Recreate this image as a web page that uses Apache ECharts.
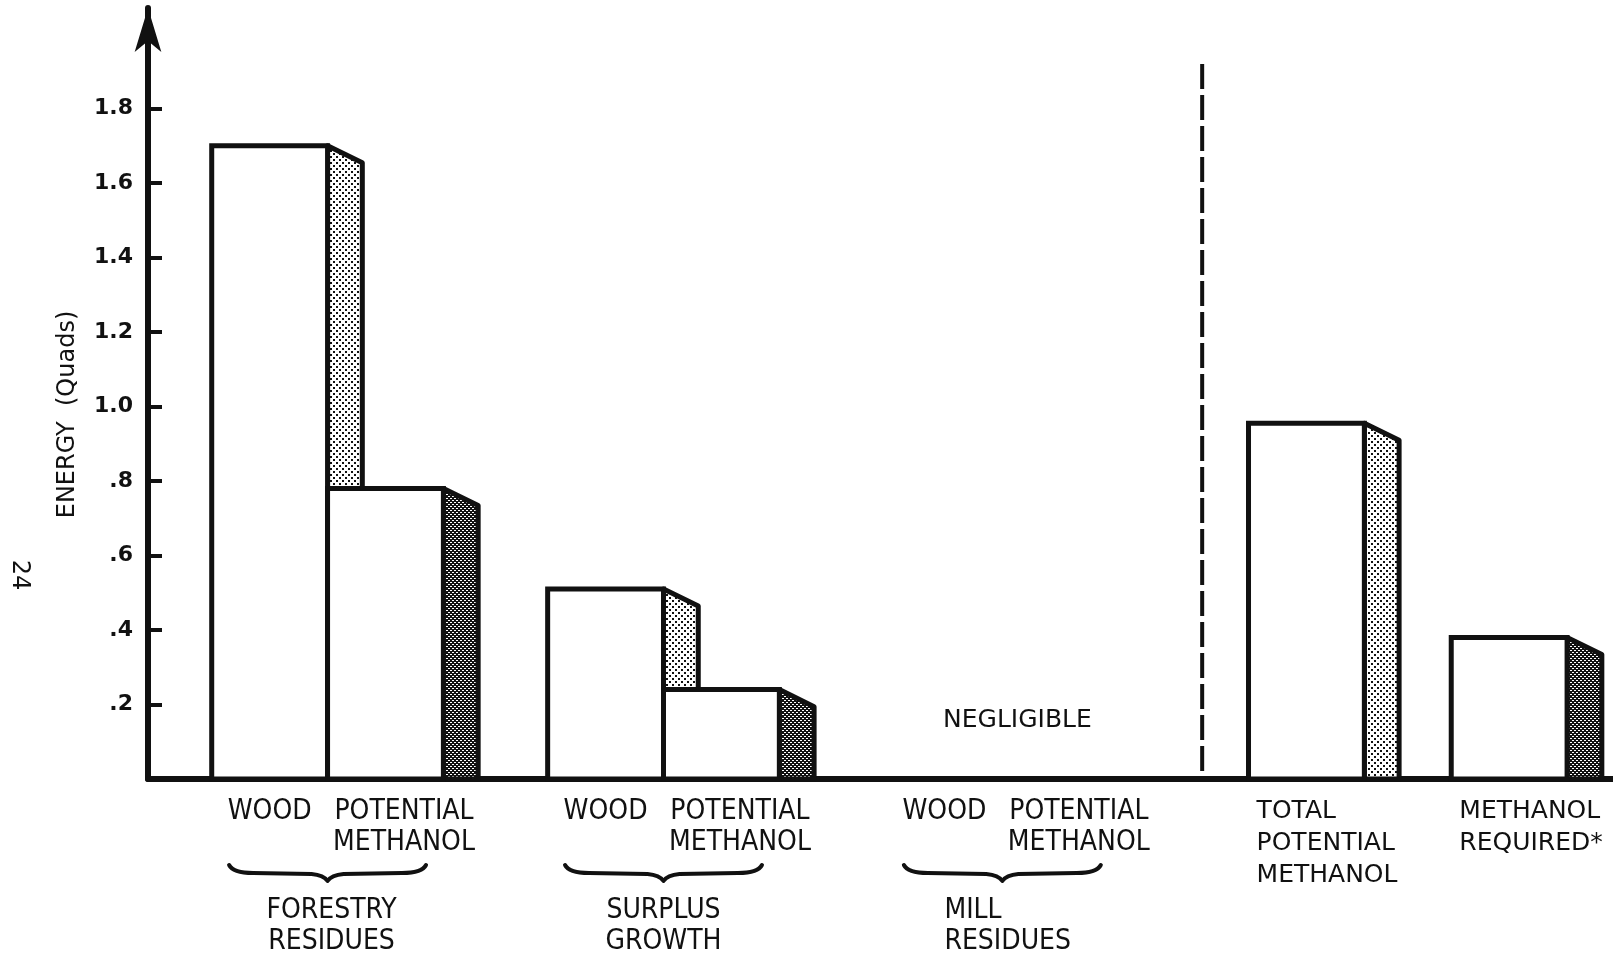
<!DOCTYPE html>
<html>
<head>
<meta charset="utf-8">
<title>Wood residues - energy</title>
<script src="https://cdn.jsdelivr.net/npm/echarts@6/dist/echarts.min.js"></script>
<style>
  html, body { margin: 0; padding: 0; background: #fff; }
  #main { width: 1613px; height: 959px; }
</style>
</head>
<body>
<div id="main"></div>
<script>
// bars, left to right
var barNames = ['WOOD', 'POTENTIAL\nMETHANOL', 'WOOD', 'POTENTIAL\nMETHANOL', 'WOOD', 'POTENTIAL\nMETHANOL',
                'TOTAL\nPOTENTIAL\nMETHANOL', 'METHANOL\nREQUIRED*'];
var energyQuads = [1.70, 0.78, 0.51, 0.24, 0, 0, 0.955, 0.38];   // mill residues: negligible
var groupNames = ['FORESTRY\nRESIDUES', 'SURPLUS\nGROWTH', 'MILL\nRESIDUES'];
var yTickValues = [0.2, 0.4, 0.6, 0.8, 1.0, 1.2, 1.4, 1.6, 1.8];
var yTickLabels = ['.2', '.4', '.6', '.8', '1.0', '1.2', '1.4', '1.6', '1.8'];

// layout: the x axis counts quarter-bar slots, a bar is 4 slots wide
var SLOTS = 51, BAR_SLOTS = 4;
var barSlot = [2.2, 6.2, 13.8, 17.8, 25.5, 29.5, 38, 45];
var groupSlot = [2.2, 13.8, 25.5];
var dividerSlot = 36.4;
var sideShade = ['dots', 'hatch', 'dots', 'hatch', 'dots', 'hatch', 'dots', 'hatch'];
var groupAlign = ['center', 'center', 'left'];

var INK = '#111';
var NARROW = "'DejaVu Sans Condensed', 'Liberation Sans', sans-serif";
var WIDE = "'DejaVu Sans', sans-serif";

function makePattern(kind) {
    var c = document.createElement('canvas');
    var ctx;
    if (kind === 'dots') {
        c.width = 6; c.height = 6;
        ctx = c.getContext('2d');
        ctx.fillStyle = '#fff'; ctx.fillRect(0, 0, 6, 6);
        ctx.fillStyle = INK; ctx.fillRect(0, 0, 2, 2); ctx.fillRect(3, 3, 2, 2);
    } else {
        c.width = 4; c.height = 4;
        ctx = c.getContext('2d');
        ctx.fillStyle = INK; ctx.fillRect(0, 0, 4, 4);
        ctx.fillStyle = '#fff'; ctx.fillRect(0, 0, 2, 1); ctx.fillRect(2, 2, 2, 1);
    }
    return { image: c, repeat: 'repeat' };
}
var patterns = { dots: makePattern('dots'), hatch: makePattern('hatch') };

function renderBar(params, api) {
    var i = params.dataIndex;
    var slot = api.value(0), v = api.value(1);
    var p0 = api.coord([slot, 0]);
    var p1 = api.coord([slot + BAR_SLOTS, v]);
    var x0 = p0[0], x1 = p1[0], yb = p0[1], yt = p1[1];
    var bw = x1 - x0, sw = bw * 0.3, drop = sw * 0.49;
    var kids = [];
    if (v > 0) {
        kids.push({
            type: 'polygon',
            shape: { points: [[x1, yt], [x1 + sw, yt + drop], [x1 + sw, yb], [x1, yb]] },
            style: { fill: patterns[sideShade[i]], stroke: INK, lineWidth: 5, lineJoin: 'round' }
        });
        kids.push({
            type: 'rect',
            shape: { x: x0, y: yt, width: bw, height: yb - yt },
            style: { fill: '#fff', stroke: INK, lineWidth: 5 }
        });
    }
    var right = i >= 6;
    var lx = right ? x0 + bw * 0.07 : (i % 2 ? (x0 + x1) / 2 + bw * 0.16 : (x0 + x1) / 2);
    kids.push({
        type: 'text', x: lx, y: yb + (right ? 16 : 17),
        style: {
            text: barNames[i], fill: INK,
            fontSize: right ? 25 : 28, fontFamily: right ? WIDE : NARROW,
            align: right ? 'left' : 'center', verticalAlign: 'top', lineHeight: right ? 32 : 31
        }
    });
    return { type: 'group', children: kids };
}

function renderGroup(params, api) {
    var g = params.dataIndex;
    var slot = api.value(0);
    var pa = api.coord([slot, 0]);
    var pm = api.coord([slot + BAR_SLOTS, 0]);
    var bw = pm[0] - pa[0];
    var cx = pm[0], yb = pa[1];
    var half = bw * 0.85, top = yb + 86, h = 16, q = h / 2;
    var d = 'M' + (cx - half) + ',' + top +
        ' Q' + (cx - half + 4) + ',' + (top + q) + ' ' + (cx - half + 24) + ',' + (top + q) +
        ' L' + (cx - 16) + ',' + (top + q + 1) +
        ' Q' + (cx - 4) + ',' + (top + q + 2) + ' ' + cx + ',' + (top + h) +
        ' Q' + (cx + 4) + ',' + (top + q + 2) + ' ' + (cx + 16) + ',' + (top + q + 1) +
        ' L' + (cx + half - 24) + ',' + (top + q) +
        ' Q' + (cx + half - 4) + ',' + (top + q) + ' ' + (cx + half) + ',' + top;
    var kids = [{
        type: 'path', shape: { pathData: d },
        style: { fill: null, stroke: INK, lineWidth: 4, lineCap: 'round', lineJoin: 'round' }
    }];
    var left = groupAlign[g] === 'left';
    kids.push({
        type: 'text', x: left ? (pa[0] + pm[0]) / 2 : cx + (g === 0 ? 4 : 0), y: yb + 116,
        style: {
            text: groupNames[g], fill: INK, fontSize: 28, fontFamily: NARROW,
            align: groupAlign[g], verticalAlign: 'top', lineHeight: 31
        }
    });
    var b = barSlot.indexOf(slot);
    if (!(energyQuads[b] > 0) && !(energyQuads[b + 1] > 0)) {
        kids.push({
            type: 'text', x: cx + bw * 0.13, y: yb - 59,
            style: { text: 'NEGLIGIBLE', fill: INK, fontSize: 25, fontFamily: WIDE,
                     align: 'center', verticalAlign: 'middle' }
        });
    }
    return { type: 'group', children: kids };
}

function renderDivider(params, api) {
    var p = api.coord([api.value(0), 0]);
    return {
        type: 'line',
        shape: { x1: p[0], y1: p[1] - 8, x2: p[0], y2: params.coordSys.y + 56 },
        style: { stroke: INK, lineWidth: 4, lineDash: [25, 6] }
    };
}

var myChart = echarts.init(document.getElementById('main'));
var option = {
    animation: false,
    backgroundColor: '#fff',
    grid: { left: 148, right: -12, top: 8, bottom: 180, outerBoundsMode: 'none' },
    xAxis: {
        type: 'value', min: 0, max: SLOTS,
        axisLine: { show: true, lineStyle: { color: INK, width: 6 } },
        axisTick: { show: false }, axisLabel: { show: false }, splitLine: { show: false }
    },
    yAxis: {
        type: 'value', min: 0, max: 2.07, interval: 0.2,
        name: 'ENERGY  (Quads)', nameLocation: 'middle', nameGap: 68,
        nameTextStyle: { color: INK, fontSize: 24, fontFamily: WIDE, padding: [0, 42, 0, 0] },
        axisLine: { show: true, symbol: ['none', 'arrow'], symbolSize: [20, 44],
                    lineStyle: { color: INK, width: 6 } },
        axisTick: { show: true, inside: true, length: 14, customValues: yTickValues,
                    lineStyle: { color: INK, width: 4 } },
        axisLabel: {
            customValues: yTickValues, margin: 15,
            color: INK, fontSize: 22, fontWeight: 'bold', fontFamily: WIDE,
            formatter: function (val) {
                for (var k = 0; k < yTickValues.length; k++) {
                    if (Math.abs(yTickValues[k] - val) < 1e-6) return yTickLabels[k];
                }
                return '';
            }
        },
        splitLine: { show: false }
    },
    graphic: [{
        type: 'text', x: 19, y: 575, rotation: -Math.PI / 2,
        style: { text: '24', fill: INK, fontSize: 24, fontFamily: WIDE, align: 'center', verticalAlign: 'middle' }
    }],
    series: [
        {
            type: 'custom', name: 'divider', renderItem: renderDivider,
            data: [[dividerSlot]]
        },
        {
            type: 'custom', name: 'energy', renderItem: renderBar,
            data: barSlot.map(function (s, i) { return [s, energyQuads[i]]; })
        },
        {
            type: 'custom', name: 'groups', renderItem: renderGroup,
            data: groupSlot.map(function (s) { return [s]; })
        }
    ]
};
myChart.setOption(option);
</script>
</body>
</html>
